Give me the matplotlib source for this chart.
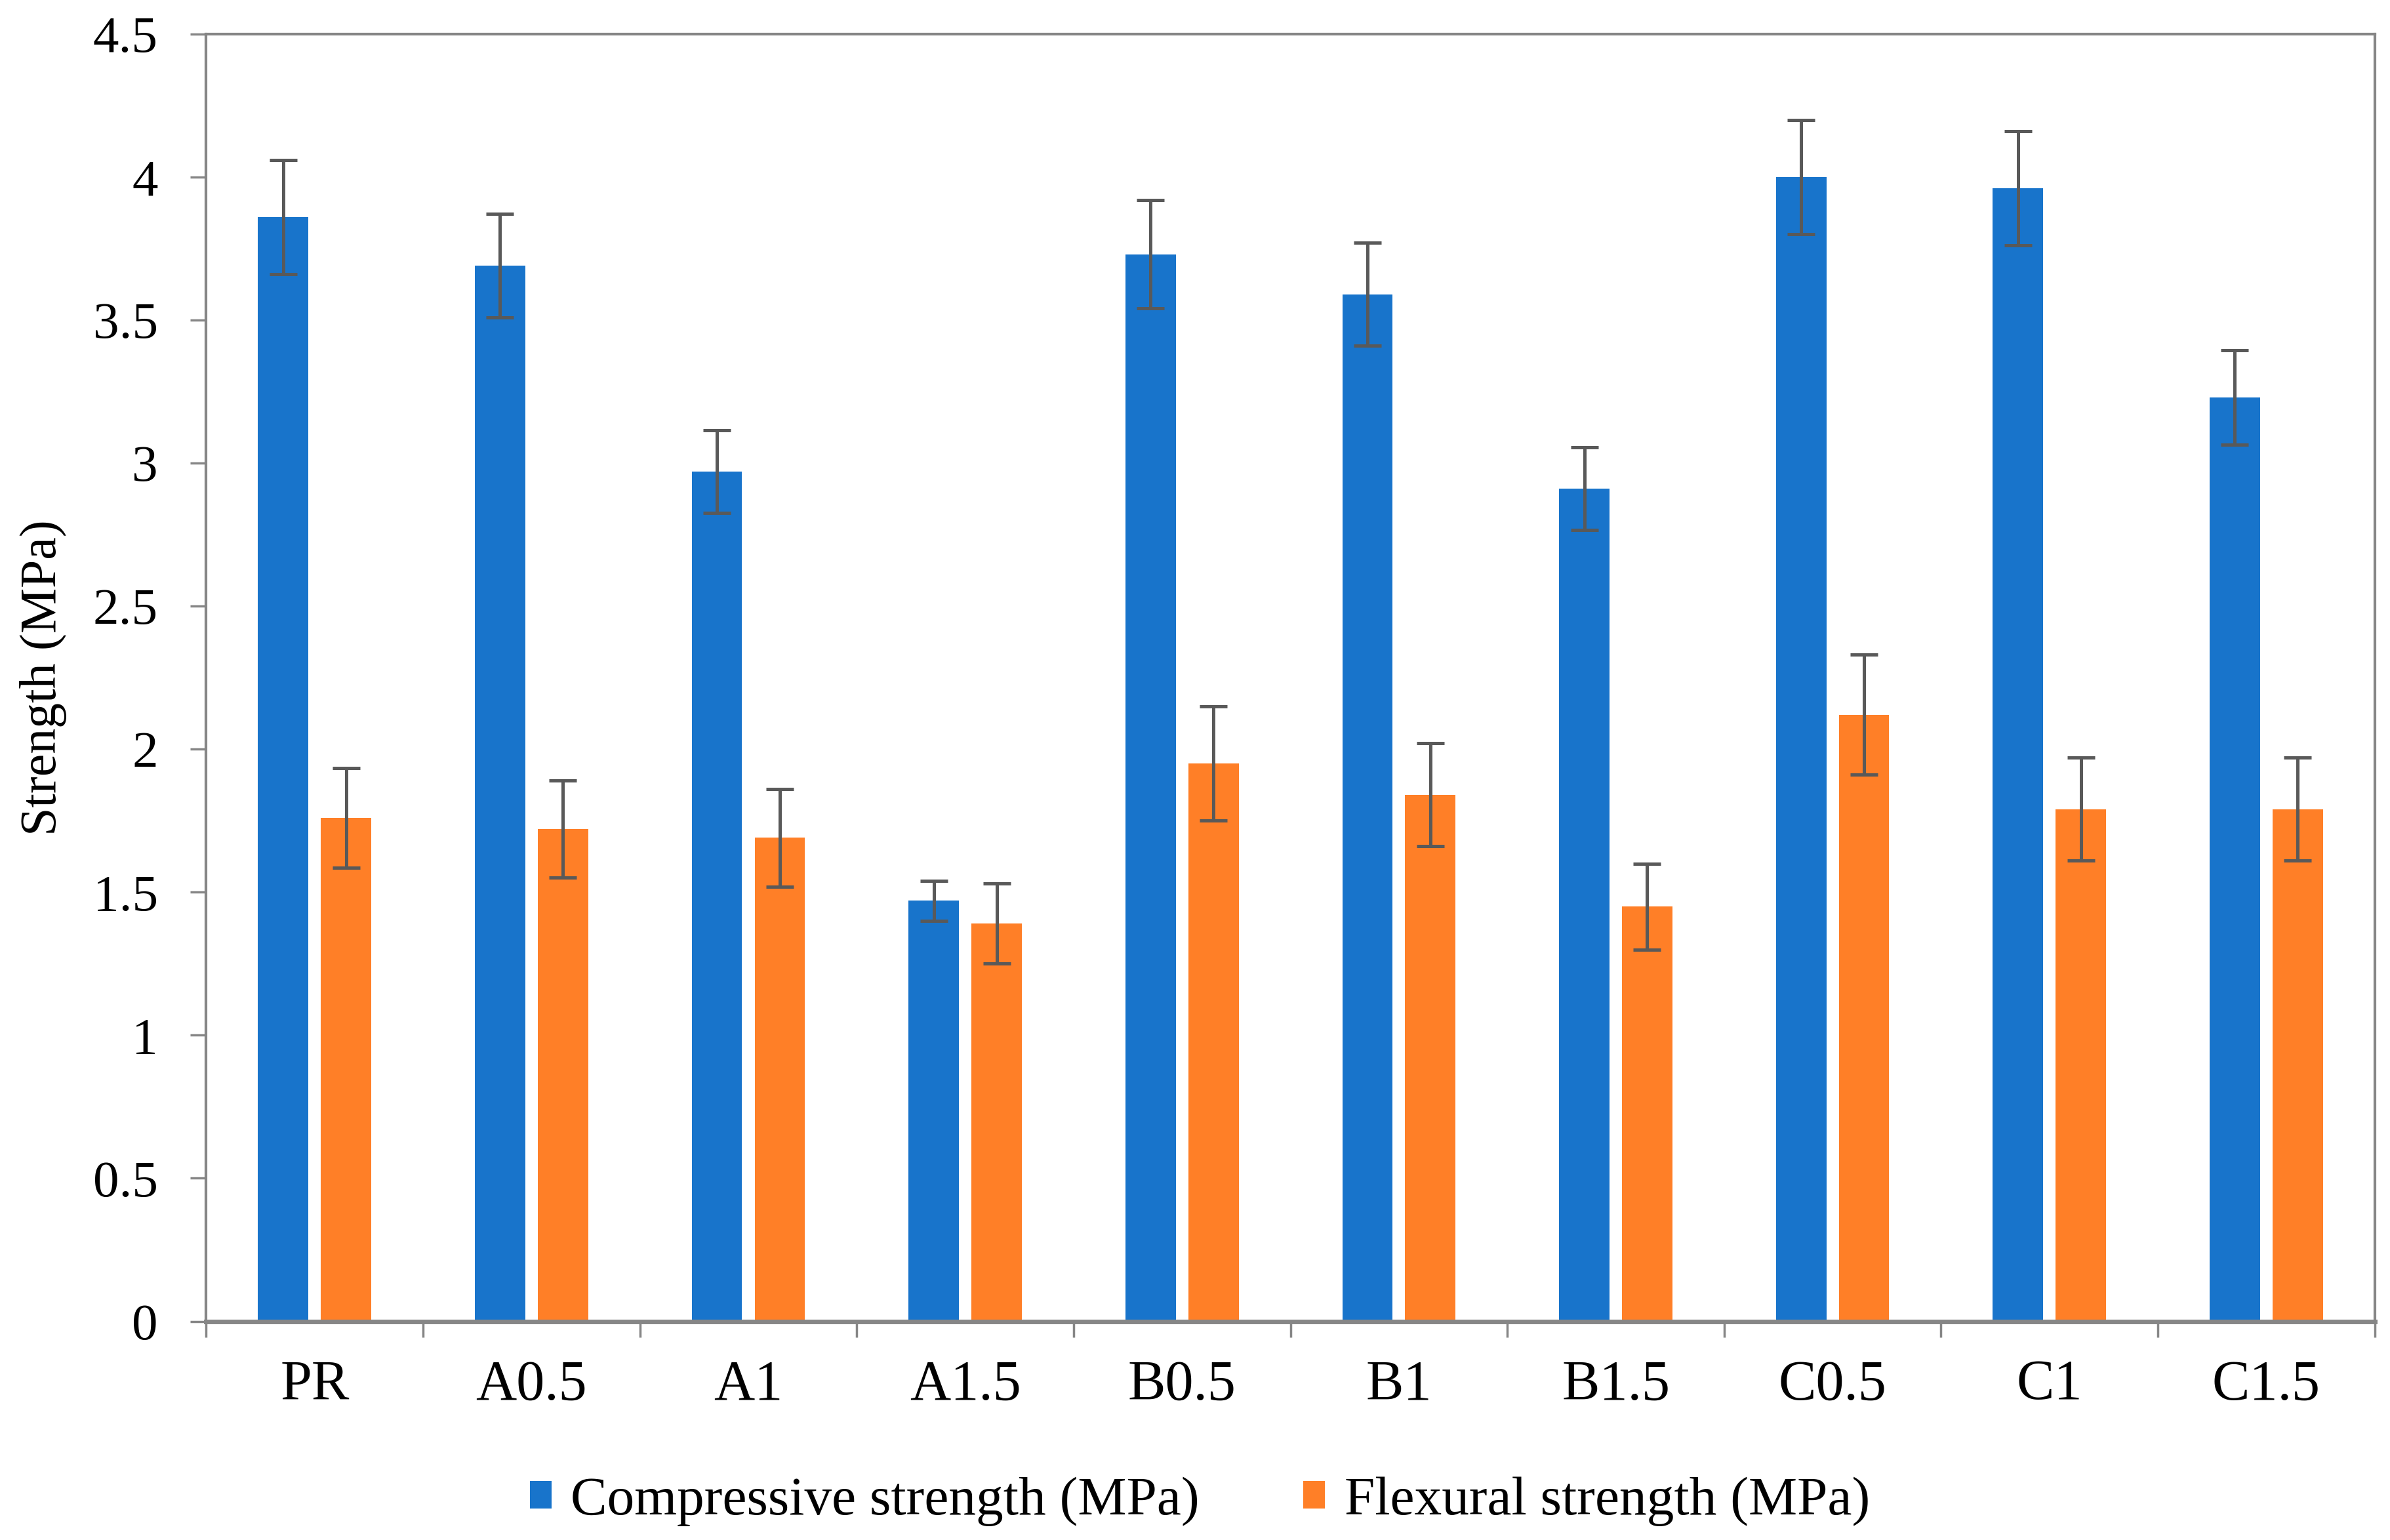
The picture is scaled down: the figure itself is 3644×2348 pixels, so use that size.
import numpy as np
import matplotlib
matplotlib.use("Agg")
import matplotlib.pyplot as plt
from matplotlib.ticker import FuncFormatter

# data
samples = ['PR', 'A0.5', 'A1', 'A1.5', 'B0.5', 'B1', 'B1.5', 'C0.5', 'C1', 'C1.5']
compressive = [3.86, 3.69, 2.97, 1.47, 3.73, 3.59, 2.91, 4.00, 3.96, 3.23]
compressive_err = [0.20, 0.18, 0.145, 0.07, 0.19, 0.18, 0.145, 0.20, 0.20, 0.165]
flexural = [1.76, 1.72, 1.69, 1.39, 1.95, 1.84, 1.45, 2.12, 1.79, 1.79]
flexural_err = [0.175, 0.17, 0.17, 0.14, 0.20, 0.18, 0.15, 0.21, 0.18, 0.18]

plt.rcParams['font.family'] = ['Liberation Serif', 'DejaVu Serif']

fig = plt.figure(figsize=(36.44, 23.48), dpi=100)
ax = fig.add_axes([0.0863, 0.142, 0.9073, 0.836])

x = np.arange(len(samples))
w = 0.232
off = 0.145
err_kw = dict(ecolor='#595959', elinewidth=3.6, capsize=15, capthick=3.6)

ax.bar(x - off, compressive, w, color='#1874CB', yerr=compressive_err,
       error_kw=err_kw, label='Compressive strength (MPa)', zorder=2)
ax.bar(x + off, flexural, w, color='#FF7F27', yerr=flexural_err,
       error_kw=err_kw, label='Flexural strength (MPa)', zorder=2)

ax.set_xlim(-0.5, len(samples) - 0.5)
ax.set_ylim(0, 4.5)
ax.set_yticks(np.arange(0, 4.51, 0.5))
ax.yaxis.set_major_formatter(FuncFormatter(lambda v, p: '{:g}'.format(v)))

ax.set_xticks(x)
ax.set_xticklabels(samples)
ax.set_xticks(np.arange(-0.5, len(samples), 1.0), minor=True)
ax.tick_params(axis='x', which='major', length=0, pad=42, labelsize=62)
ax.tick_params(axis='x', which='minor', length=17, width=2.5, color='#868686')
ax.tick_params(axis='y', which='major', length=17, width=2.5, color='#868686',
               pad=36, labelsize=57)

for s in ['left', 'right', 'top']:
    ax.spines[s].set_color('#868686')
    ax.spines[s].set_linewidth(3)
ax.spines['bottom'].set_color('#868686')
ax.spines['bottom'].set_linewidth(5)

fig.text(0.018, 0.56, 'Strength (MPa)', rotation=90, va='center', ha='center',
         fontsize=56)

fig.legend(loc='center', bbox_to_anchor=(0.502, 0.025), ncol=2, frameon=False,
           fontsize=60, handlelength=0.4, handleheight=0.4, handletextpad=0.35,
           columnspacing=1.9)

fig.savefig('out.png', dpi=100)
